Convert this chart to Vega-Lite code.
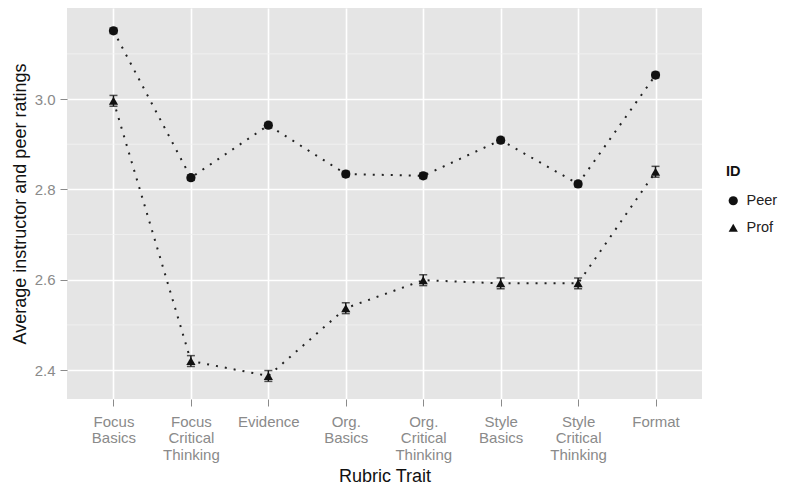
{
  "$schema": "https://vega.github.io/schema/vega-lite/v6.json",
  "autosize": "none",
  "width": 635,
  "height": 391,
  "padding": {"left": 67, "top": 8, "right": 93, "bottom": 86},
  "background": "white",
  "config": {
    "font": "Liberation Sans",
    "view": {"fill": "#e5e5e5", "stroke": null},
    "axis": {
      "domain": false,
      "grid": true,
      "gridColor": "white",
      "gridWidth": 1.6,
      "tickColor": "#8a8a8a",
      "tickSize": 7,
      "labelColor": "#8a8a8a",
      "labelFontSize": 15,
      "titleFontSize": 18,
      "titleFontWeight": "normal",
      "titleColor": "#111"
    }
  },
  "datasets": {
    "ratings": [
      {"trait": "Focus Basics", "ID": "Peer", "mean": 3.151, "lo": 3.145, "hi": 3.157},
      {"trait": "Focus Critical Thinking", "ID": "Peer", "mean": 2.826, "lo": 2.820, "hi": 2.832},
      {"trait": "Evidence", "ID": "Peer", "mean": 2.942, "lo": 2.936, "hi": 2.948},
      {"trait": "Org. Basics", "ID": "Peer", "mean": 2.834, "lo": 2.828, "hi": 2.840},
      {"trait": "Org. Critical Thinking", "ID": "Peer", "mean": 2.830, "lo": 2.824, "hi": 2.836},
      {"trait": "Style Basics", "ID": "Peer", "mean": 2.909, "lo": 2.903, "hi": 2.915},
      {"trait": "Style Critical Thinking", "ID": "Peer", "mean": 2.812, "lo": 2.806, "hi": 2.818},
      {"trait": "Format", "ID": "Peer", "mean": 3.053, "lo": 3.047, "hi": 3.059},
      {"trait": "Focus Basics", "ID": "Prof", "mean": 2.996, "lo": 2.984, "hi": 3.008},
      {"trait": "Focus Critical Thinking", "ID": "Prof", "mean": 2.420, "lo": 2.408, "hi": 2.432},
      {"trait": "Evidence", "ID": "Prof", "mean": 2.387, "lo": 2.375, "hi": 2.399},
      {"trait": "Org. Basics", "ID": "Prof", "mean": 2.537, "lo": 2.525, "hi": 2.549},
      {"trait": "Org. Critical Thinking", "ID": "Prof", "mean": 2.599, "lo": 2.587, "hi": 2.611},
      {"trait": "Style Basics", "ID": "Prof", "mean": 2.592, "lo": 2.580, "hi": 2.604},
      {"trait": "Style Critical Thinking", "ID": "Prof", "mean": 2.592, "lo": 2.580, "hi": 2.604},
      {"trait": "Format", "ID": "Prof", "mean": 2.839, "lo": 2.827, "hi": 2.851}
    ],
    "minor": [{"v": 2.5}, {"v": 2.7}, {"v": 2.9}, {"v": 3.1}]
  },
  "layer": [
    {
      "data": {"name": "minor"},
      "mark": {"type": "rule", "color": "#f2f2f2", "strokeWidth": 0.8},
      "encoding": {
        "y": {"field": "v", "type": "quantitative"}
      }
    },
    {
      "data": {"name": "ratings"},
      "encoding": {
        "x": {
          "field": "trait", "type": "nominal", "sort": null,
          "scale": {"type": "point", "padding": 0.6},
          "axis": {
            "title": "Rubric Trait",
            "labelAngle": 0,
            "labelExpr": "split(datum.label, ' ')",
            "labelLineHeight": 16.8,
            "labelPadding": 8,
            "titleBaseline": "alphabetic",
            "titleY": 82
          }
        }
      },
      "layer": [
        {
          "mark": {"type": "line", "color": "#222", "strokeWidth": 2, "strokeDash": [2, 7], "strokeCap": "butt"},
          "encoding": {
            "y": {"field": "mean", "type": "quantitative"},
            "detail": {"field": "ID"}
          }
        },
        {
          "mark": {"type": "errorbar", "ticks": {"size": 8}, "thickness": 1.5, "color": "#111"},
          "encoding": {
            "y": {"field": "lo", "type": "quantitative"},
            "y2": {"field": "hi"}
          }
        },
        {
          "mark": {"type": "point", "filled": true, "opacity": 1, "color": "#111", "size": 85},
          "encoding": {
            "y": {"field": "mean", "type": "quantitative"},
            "shape": {
              "field": "ID", "type": "nominal",
              "scale": {"domain": ["Peer", "Prof"], "range": ["circle", "triangle-up"]},
              "legend": {
                "title": "ID",
                "orient": "none",
                "legendX": 659,
                "legendY": 157,
                "titleFontSize": 14.5,
                "titleFontWeight": "bold",
                "titleColor": "#111",
                "labelFontSize": 14.5,
                "labelColor": "#222",
                "symbolFillColor": "#111",
                "symbolStrokeColor": "#111",
                "symbolSize": 85,
                "rowPadding": 11,
                "titlePadding": 14,
                "labelOffset": 6
              }
            }
          }
        }
      ]
    }
  ],
  "encoding": {
    "y": {
      "type": "quantitative",
      "scale": {"domain": [2.336, 3.2015], "nice": false, "zero": false},
      "axis": {
        "title": "Average instructor and peer ratings",
        "values": [2.4, 2.6, 2.8, 3.0],
        "format": ".1f",
        "labelPadding": 5,
        "titlePadding": 5
      }
    }
  }
}
